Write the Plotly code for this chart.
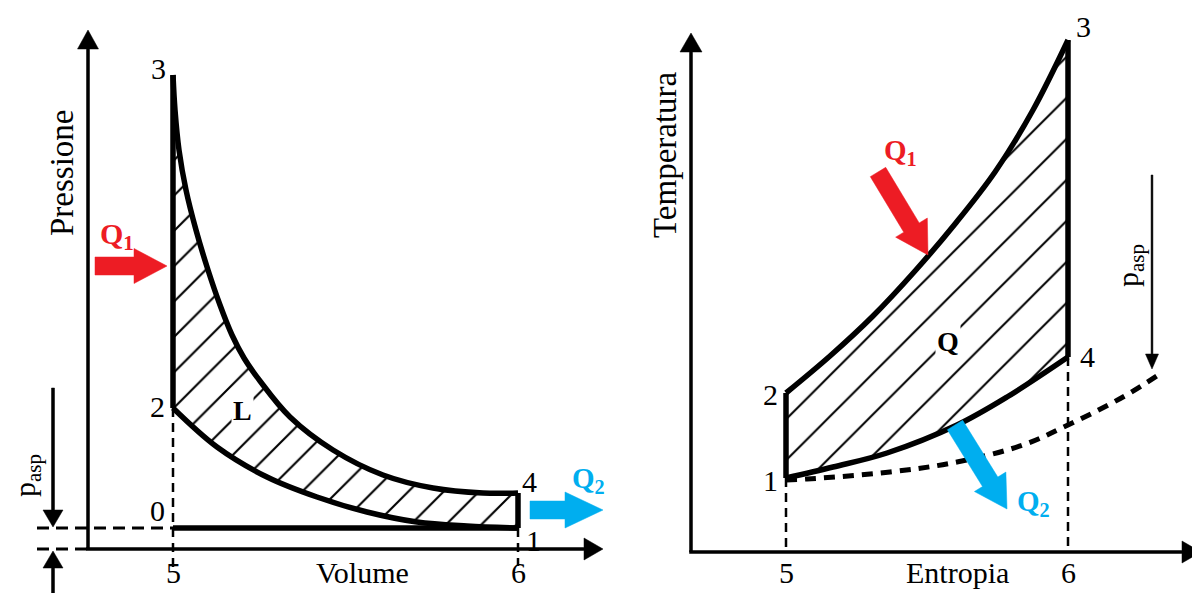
import math
import plotly.graph_objects as go

# ---------------- data (drawing units: 1 unit = 1 px, y grows downward) -------------
# Left panel: p-V diagram, state points
pv_state_labels = ["0", "1", "2", "3", "4"]
pv_state_x = [173, 518, 173, 173, 518]
pv_state_y = [528, 528, 408, 75, 493]
# expansion 3 -> 4
pv_exp_x = [173, 175, 179, 186, 196, 208, 220, 232, 244, 260, 290, 333, 383, 433, 483, 518]
pv_exp_y = [75, 110, 150, 190, 230, 270, 305, 335, 358, 381, 417, 450, 475, 488, 493, 493]
# compression 2 -> 1
pv_comp_x = [173, 217, 267, 317, 367, 417, 467, 518]
pv_comp_y = [408, 447, 477, 497, 512, 522, 526, 528]
pv_ticks = ["5", "6"]
pv_tick_x = [173, 518]

# Right panel: T-s diagram, state points
ts_state_labels = ["1", "2", "3", "4"]
ts_state_x = [786, 786, 1068, 1068]
ts_state_y = [478, 393, 40, 357]
# heat addition 2 -> 3
ts_heat_x = [786, 830, 873, 915, 955, 995, 1033, 1068]
ts_heat_y = [393, 356, 316, 271, 224, 172, 110, 40]
# heat rejection 4 -> 1
ts_rej_x = [1068, 1007, 957, 887, 833, 786]
ts_rej_y = [357, 397, 425, 453, 467, 478]
# intake pressure isobar (dotted)
ts_iso_x = [786, 807, 890, 957, 1023, 1068, 1123, 1163]
ts_iso_y = [480, 479, 472, 462, 445, 425, 397, 372]
ts_ticks = ["5", "6"]
ts_tick_x = [786, 1068]

RED = "#ED1C24"
BLUE = "#00AEEF"
FONT = "Liberation Serif"
PAGE_OFFSET = 8  # default body margin of the page

fig = go.Figure()


def block_arrow(tail, tip, shaft_w, head_w, head_len):
    tx, ty = tail
    px, py = tip
    dx, dy = px - tx, py - ty
    L = math.hypot(dx, dy)
    ux, uy = dx / L, dy / L
    nx, ny = -uy, ux
    bx, by = px - ux * head_len, py - uy * head_len
    s, h = shaft_w / 2, head_w / 2
    xs = [tx + nx * s, bx + nx * s, bx + nx * h, px, bx - nx * h, bx - nx * s, tx - nx * s, tx + nx * s]
    ys = [ty + ny * s, by + ny * s, by + ny * h, py, by - ny * h, by - ny * s, ty - ny * s, ty + ny * s]
    return xs, ys


def add_arrow(tail, tip, shaft_w, head_w, head_len, color):
    xs, ys = block_arrow(tail, tip, shaft_w, head_w, head_len)
    fig.add_trace(go.Scatter(x=xs, y=ys, mode="lines", fill="toself", fillcolor=color,
                             line=dict(color=color, width=0.5), hoverinfo="skip"))


def add_line(xs, ys, width, dash="solid", shape="linear", color="black"):
    fig.add_trace(go.Scatter(x=xs, y=ys, mode="lines",
                             line=dict(color=color, width=width, dash=dash, shape=shape),
                             hoverinfo="skip"))


def add_hatch(xs, ys, size, solidity):
    fig.add_trace(go.Scatter(x=xs, y=ys, mode="none", fill="toself",
                             fillcolor="rgba(0,0,0,0)",
                             fillpattern=dict(shape="/", fgcolor="black", fgopacity=1,
                                              bgcolor="rgba(0,0,0,0)",
                                              size=size, solidity=solidity),
                             hoverinfo="skip"))


# ---------------- left panel ----------------
p0 = (pv_state_x[0], pv_state_y[0])
p1 = (pv_state_x[1], pv_state_y[1])
p2 = (pv_state_x[2], pv_state_y[2])
p3 = (pv_state_x[3], pv_state_y[3])
p4 = (pv_state_x[4], pv_state_y[4])

# hatched work area L
add_hatch(pv_exp_x + [p1[0]] + pv_comp_x[::-1], pv_exp_y + [p1[1]] + pv_comp_y[::-1], 25, 0.085)

# dashed guides
add_line([37, p0[0]], [p0[1], p0[1]], 3, dash="12px,7px")
add_line([37, 88], [549, 549], 3, dash="12px,7px")
add_line([p2[0], p2[0]], [p2[1], 570], 2.5, dash="9px,6px")
add_line([p1[0], p1[0]], [p1[1], 566], 2.5, dash="9px,6px")

# axes
add_arrow((88, 549), (88, 30), 3, 21, 19, "black")
add_arrow((86.5, 549), (603, 549), 3, 22, 19, "black")

# cycle outline
add_line([p2[0], p3[0]], [p2[1], p3[1]], 5.5)
add_line(pv_exp_x, pv_exp_y, 5.5, shape="spline")
add_line([p4[0], p1[0]], [p4[1], p1[1]], 5.5)
add_line(pv_comp_x, pv_comp_y, 5.5, shape="spline")
add_line([p0[0], p1[0]], [p0[1], p1[1]], 5.5)

# p_asp arrows
add_arrow((53, 388), (53, 527), 3, 20, 17, "black")
add_arrow((53, 600), (53, 551), 3, 20, 17, "black")

# heat arrows
add_arrow((95, 266), (167, 266), 18, 35, 33, RED)
add_arrow((530, 510), (603, 510), 18, 36, 38, BLUE)

# ---------------- right panel ----------------
s1 = (ts_state_x[0], ts_state_y[0])
s2 = (ts_state_x[1], ts_state_y[1])
s3 = (ts_state_x[2], ts_state_y[2])
s4 = (ts_state_x[3], ts_state_y[3])

add_hatch([s1[0]] + ts_heat_x + ts_rej_x, [s1[1]] + ts_heat_y + ts_rej_y, 29, 0.07)

add_line([s1[0], s1[0]], [s1[1], 552], 2.5, dash="9px,6px")
add_line([s4[0], s4[0]], [s4[1], 552], 2.5, dash="9px,6px")
add_line(ts_iso_x, ts_iso_y, 5, dash="11px,8px", shape="spline")

add_arrow((691, 552), (691, 33), 3, 22, 19, "black")
add_arrow((689.5, 552), (1201, 552), 3, 22, 19, "black")

add_line([s1[0], s2[0]], [s1[1], s2[1]], 5.5)
add_line(ts_heat_x, ts_heat_y, 5.5, shape="spline")
add_line([s3[0], s4[0]], [s3[1], s4[1]], 5.5)
add_line(ts_rej_x, ts_rej_y, 5.5, shape="spline")

add_arrow((1152, 175), (1152, 369), 1.8, 13, 15, "black")

add_arrow((878, 172), (928, 255), 18, 37, 32, RED)
add_arrow((955, 425), (1007, 509), 18, 37, 32, BLUE)

# ---------------- text ----------------
ann = []


def txt(x, y, s, size=30, color="black", angle=0, bg=None):
    d = dict(x=x, y=y, text=s, showarrow=False, xref="x", yref="y",
             font=dict(family=FONT, size=size, color=color), textangle=angle,
             xanchor="center", yanchor="middle")
    if bg:
        d["bgcolor"] = bg
        d["borderpad"] = 1
    ann.append(d)


pv_label_pos = {"0": (157, 510), "1": (533, 540), "2": (157, 406), "3": (158, 68), "4": (529, 481)}
for lab in pv_state_labels:
    txt(*pv_label_pos[lab], lab)
for t, x in zip(pv_ticks, pv_tick_x):
    txt(x, 572, t)
txt(362, 572, "Volume")
txt(62, 173, "Pressione", size=33, angle=-90)
txt(27, 476, "p<sub>asp</sub>", size=30, angle=-90)
txt(242, 410, "<b>L</b>", size=28, bg="white")
txt(117, 236, "<b>Q<sub>1</sub></b>", size=30, color=RED)
txt(588, 480, "<b>Q<sub>2</sub></b>", size=29, color=BLUE)

ts_label_pos = {"1": (770, 480), "2": (770, 394), "3": (1083, 26), "4": (1087, 356)}
for lab in ts_state_labels:
    txt(*ts_label_pos[lab], lab)
for t, x in zip(ts_ticks, ts_tick_x):
    txt(x, 572, t)
txt(957, 572, "Entropia")
txt(665, 155, "Temperatura", size=33, angle=-90)
txt(1130, 266, "p<sub>asp</sub>", size=30, angle=-90)
txt(948, 341, "<b>Q</b>", size=28, bg="white")
txt(900, 152, "<b>Q<sub>1</sub></b>", size=29, color=RED)
txt(1033, 503, "<b>Q<sub>2</sub></b>", size=29, color=BLUE)

fig.update_layout(
    width=1200, height=593,
    margin=dict(l=0, r=0, t=0, b=0),
    paper_bgcolor="white", plot_bgcolor="white",
    showlegend=False,
    xaxis=dict(range=[PAGE_OFFSET, 1200 + PAGE_OFFSET], visible=False, fixedrange=True),
    yaxis=dict(range=[593 + PAGE_OFFSET, PAGE_OFFSET], visible=False, fixedrange=True),
    annotations=ann,
)

fig.write_html("out.html", config={"displayModeBar": False})
